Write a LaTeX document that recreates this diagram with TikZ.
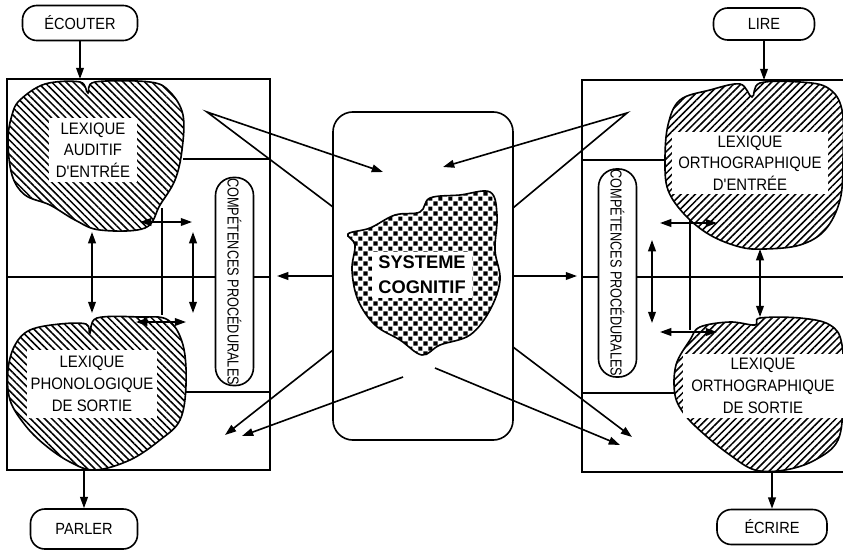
\documentclass[tikz,border=0pt]{standalone}
\usepackage{fontspec}
\setmainfont{Liberation Sans}
\newfontfamily\lexfont[FakeStretch=0.9]{Liberation Sans}
\newfontfamily\compfont[FakeStretch=0.8]{Liberation Sans}
\usetikzlibrary{arrows.meta,patterns,patterns.meta}

% damier du systeme cognitif
\pgfdeclarepatternformonly{cogcheck}{\pgfpointorigin}{\pgfqpoint{7.4pt}{7.4pt}}{\pgfqpoint{7.4pt}{7.4pt}}{%
  \pgfpathrectangle{\pgfqpoint{0.3pt}{0.3pt}}{\pgfqpoint{3.1pt}{3.1pt}}%
  \pgfpathrectangle{\pgfqpoint{4pt}{4pt}}{\pgfqpoint{3.1pt}{3.1pt}}%
  \pgfusepath{fill}}

\tikzset{
  arr/.style={-{Triangle[length=8pt,width=5.5pt]}},
  dbl/.style={{Triangle[length=8pt,width=5.5pt]}-{Triangle[length=8pt,width=5.5pt]}},
  actbox/.style={draw, rounded corners=0.36cm, inner sep=0pt, font=\lexfont\fontsize{11.5}{12}\selectfont},
  lexlabel/.style={fill=white, align=center, inner sep=0pt, font=\lexfont\fontsize{11.8}{15.5}\selectfont},
  hatchL/.style={draw, preaction={fill=white}, pattern={Lines[angle=-45,distance=3.6pt,line width=1.1pt]}},
  hatchR/.style={draw, preaction={fill=white}, pattern={Lines[angle=45,distance=3.6pt,line width=1.1pt]}},
  compbox/.style={draw, fill=white, rounded corners=0.45cm, rotate=-90, minimum width=5.2cm,
    minimum height=0.95cm, inner sep=0pt, font=\compfont\fontsize{11.3}{12}\selectfont},
}

\begin{document}
\begin{tikzpicture}[x=0.025cm, y=-0.025cm, line width=1.15pt]
        \useasboundingbox (0,0) rectangle (843,553);

        % panneaux
        \coordinate (pLnw) at (7,79);
        \coordinate (pLse) at (270,470);
        \coordinate (pRnw) at (582,80);
        \coordinate (pRsw) at (582,472);
        \draw (pLnw) rectangle (pLse);
        \draw (7,277) -- (270,277);
        \draw (183,159) -- (270,159);
        \draw (183,392) -- (270,392);
        \draw (162,208) -- (162,315);

        \draw (843,80) -- (pRnw) -- (pRsw) -- (843,472);
        \draw (582,277) -- (843,277);
        \draw (582,160) -- (667,160);
        \draw (582,393) -- (677,393);
        \draw (690,215) -- (690,330);

        % competences
        \node[compbox] (compL) at (234.5,281.5) {COMPÉTENCES PROCÉDURALES};
        \node[compbox] (compR) at (617.5,273) {COMPÉTENCES PROCÉDURALES};

        % lexiques
        \draw[hatchL] plot[smooth cycle, tension=0.6] coordinates {(20,100) (45,84) (80,82) (88,93) (95,82)
          (150,82) (170,92) (183,115) (182,150) (175,180) (160,205) (145,228) (100,230) (75,220)
          (50,205) (25,195) (12,175) (8,140) (12,115)};
        \draw[hatchL] plot[smooth cycle, tension=0.6] coordinates {(30,330) (60,324) (86,324) (90,333)
          (97,318) (140,317) (168,320) (183,345) (186,385) (180,420) (160,440) (130,460) (95,470)
          (70,462) (45,445) (25,425) (10,400) (8,370) (15,345)};
        \draw[hatchR] plot[smooth cycle, tension=0.6] coordinates {(680,100) (710,90) (740,84) (752,97)
          (760,83) (800,82) (828,88) (842,110) (843,160) (840,200) (825,230) (800,245) (765,249)
          (740,247) (710,235) (685,215) (668,190) (665,160) (668,125)};
        \draw[hatchR] plot[smooth cycle, tension=0.6] coordinates {(690,340) (700,327) (730,322) (755,325)
          (760,318) (800,318) (830,325) (842,345) (843,400) (838,440) (815,460) (785,470) (755,470)
          (730,455) (705,435) (685,415) (675,395) (676,365)};

        \node[lexlabel, minimum width=2.175cm, minimum height=1.6cm] (audin) at (93,150) {LEXIQUE\\AUDITIF\\D'ENTRÉE};
        \node[lexlabel, minimum width=3.25cm, minimum height=1.7cm] (phonout) at (92,384) {LEXIQUE\\PHONOLOGIQUE\\DE SORTIE};
        \node[lexlabel, minimum width=3.9cm, minimum height=1.55cm] (orthin) at (750,163) {LEXIQUE\\ORTHOGRAPHIQUE\\D'ENTRÉE};
        \node[lexlabel, minimum width=4.0cm, minimum height=1.62cm] (orthout) at (763,386) {LEXIQUE\\ORTHOGRAPHIQUE\\DE SORTIE};

        % systeme cognitif
        \node[draw, rounded corners=0.5cm, minimum width=4.5cm, minimum height=8.2cm] (sysbox) at (423,276) {};
        \draw[preaction={fill=white}, pattern=cogcheck] plot[smooth cycle, tension=0.6] coordinates {(348,234)
          (370,228) (395,215) (420,212) (430,198) (460,195) (490,192) (497,215) (495,250) (500,280)
          (490,310) (470,335) (440,345) (422,355) (400,340) (375,325) (358,300) (352,270) (355,245)};
        \node[fill=white, align=center, inner sep=0pt, minimum width=2.5cm, minimum height=1.125cm,
          font=\bfseries\fontsize{13}{17.8}\selectfont] (cogn) at (422,275) {SYSTEME\\COGNITIF};

        % entrees et sorties
        \node[actbox, minimum width=2.875cm, minimum height=0.875cm] (ecouter) at (80,23) {ÉCOUTER};
        \node[actbox, minimum width=2.525cm, minimum height=0.8cm] (lire) at (764,24) {LIRE};
        \node[actbox, minimum width=2.675cm, minimum height=1.0cm] (parler) at (84,529) {PARLER};
        \node[actbox, minimum width=2.75cm, minimum height=0.875cm] (ecrire) at (772,527) {ÉCRIRE};

        \draw[arr] (ecouter.south) -- (ecouter.south |- pLnw);
        \draw[arr] (lire.south) -- (lire.south |- pRnw);
        \draw[arr] (parler.north |- pLse) -- (parler.north);
        \draw[arr] (ecrire.north |- pRsw) -- (ecrire.north);

        % liaisons dans les panneaux
        \draw[dbl] (92,232) -- (92,313);
        \draw[dbl] (193,232) -- (193,313);
        \draw[dbl] (140,222) -- (192,222);
        \draw[dbl] (136,322) -- (186,322);

        \draw[dbl] (652,240) -- (652,323);
        \draw[dbl] (760,249) -- (760,317);
        \draw[dbl] (660,223) -- (717,223);
        \draw[dbl] (660,332) -- (717,332);

        % fleches du systeme cognitif
        \coordinate (fanL) at (207,112);
        \coordinate (fanR) at (627,113);
        \draw[arr] (333,207) -- (fanL) -- (383,172);
        \draw[arr] (513,208) -- (fanR) -- (443,167);
        \draw[arr] (sysbox.west) -- (277,276);
        \draw[arr] (sysbox.east) -- (577,276);
        \draw[arr] (333,350) -- (225,435);
        \draw[arr] (403,377) -- (242,436);
        \draw[arr] (513,347) -- (632,437);
        \draw[arr] (435,368) -- (620,445);
    \end{tikzpicture}
\end{document}
